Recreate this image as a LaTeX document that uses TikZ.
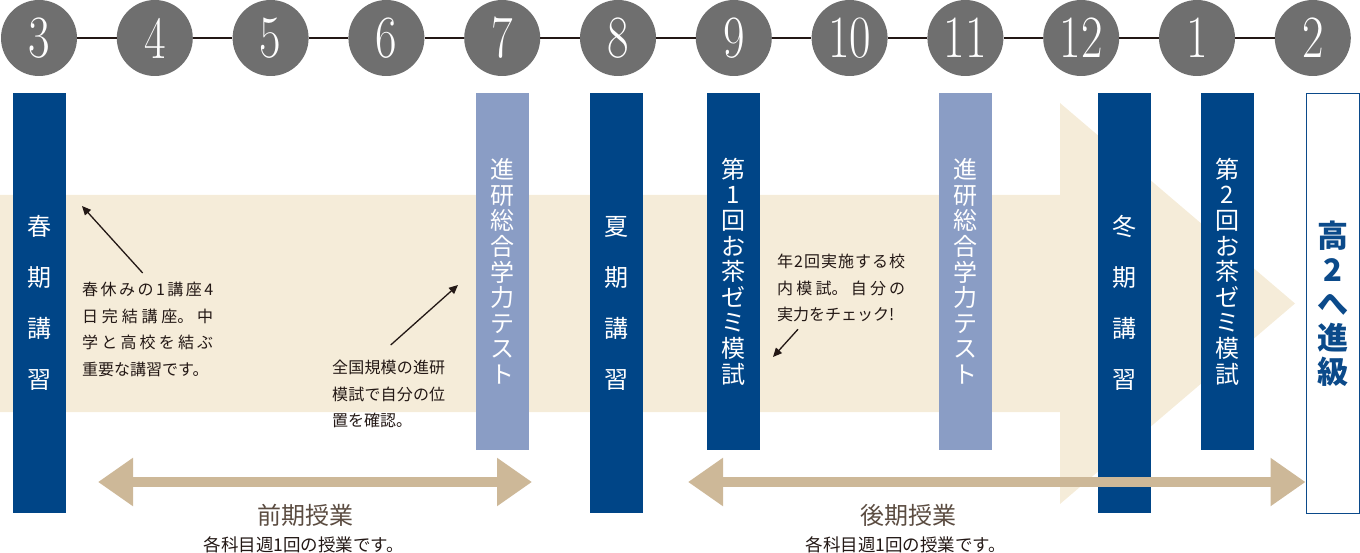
\documentclass[tikz,border=0pt]{standalone}
\usepackage{fontspec}
\usepackage{graphicx}
\usepackage{tikz}
\usetikzlibrary{arrows.meta}
\newfontfamily\jpfont{Noto Sans CJK JP}
\XeTeXlinebreaklocale "ja"
\XeTeXlinebreakskip=0pt plus 2pt
\definecolor{BarBlue}{HTML}{004587}
\definecolor{BarLight}{HTML}{8A9DC5}
\definecolor{FlowBeige}{HTML}{F5ECD9}
\definecolor{TermTan}{HTML}{CDB898}
\definecolor{DotGray}{HTML}{6F6F6F}
\definecolor{InkDark}{HTML}{231815}
\definecolor{LabelBrown}{HTML}{5B4C41}
\definecolor{GoalBlue}{HTML}{0B4A8A}

\begin{document}
\begin{tikzpicture}[x=1pt, y=-1pt,
    monthdot/.style={circle, fill=DotGray, minimum size=76pt, inner sep=0pt, text=white, font=\fontsize{60}{60}\selectfont},
    monthline/.style={draw=InkDark, line width=2.5pt},
    longbar/.style={fill=BarBlue, minimum width=53pt, minimum height=420pt, inner sep=0pt, text=white, align=center, font=\jpfont\fontsize{24}{51}\selectfont},
    shortbar/.style={fill=BarBlue, minimum width=53pt, minimum height=357pt, inner sep=0pt, text=white, align=center, font=\jpfont\fontsize{24}{25.6}\selectfont},
    testbar/.style={shortbar, fill=BarLight},
    goalbox/.style={draw=GoalBlue, line width=1pt, fill=white, minimum width=53pt, minimum height=420pt, inner sep=0pt, text=GoalBlue, align=center, font=\jpfont\bfseries\fontsize{31}{34}\selectfont},
    termarrow/.style={draw=TermTan, line width=10pt, {Triangle[length=35pt,width=46pt]}-{Triangle[length=35pt,width=46pt]}},
    termlabel/.style={text=LabelBrown, font=\jpfont\fontsize{24}{24}\selectfont},
    termnote/.style={text=InkDark, font=\jpfont\fontsize{17.5}{17.5}\selectfont},
    note/.style={anchor=north west, inner sep=0pt, align=justify, text=InkDark, font=\jpfont\fontsize{16}{26.5}\selectfont},
    notearrow/.style={draw=InkDark, line width=1.3pt, -{Triangle[length=9pt,width=8pt]}}
  ]
  \useasboundingbox (0,0) rectangle (1360,553);

  % flow arrow behind everything
  \fill[FlowBeige] (0,195) -- (1060,195) -- (1060,103) -- (1295,303.5) -- (1060,504) -- (1060,412) -- (0,412) -- cycle;

  % months
  \foreach \m [count=\i] in {3,4,5,6,7,8,9,10,11,12,1,2}
    \node[monthdot] (m\i) at ({39+115.8*(\i-1)}, 38) {\scalebox{0.78}[1]{\m}};
  \foreach \i [evaluate=\i as \j using int(\i+1)] in {1,...,11}
    \draw[monthline] (m\i) -- (m\j);

  % bars
  \node[longbar] (spring) at (39.5,303) {春\\期\\講\\習};
  \node[testbar] (test1) at (502.5,271.5) {進\\研\\総\\合\\学\\力\\テ\\ス\\ト};
  \node[longbar] (summer) at (616.5,303) {夏\\期\\講\\習};
  \node[shortbar] (exam1) at (733.5,271.5) {第\\1\\回\\お\\茶\\ゼ\\ミ\\模\\試};
  \node[testbar] (test2) at (965.5,271.5) {進\\研\\総\\合\\学\\力\\テ\\ス\\ト};
  \node[longbar] (winter) at (1124.5,303) {冬\\期\\講\\習};
  \node[shortbar] (exam2) at (1227.5,271.5) {第\\2\\回\\お\\茶\\ゼ\\ミ\\模\\試};
  \node[goalbox] (goal) at (1332.5,303.5) {高\\2\\へ\\進\\級};

  % terms
  \coordinate (t1a) at (98,482);
  \coordinate (t1b) at (532,482);
  \coordinate (t2a) at (688,482);
  \draw[termarrow] (t1a) -- (t1b);
  \draw[termarrow] (t2a) -- (t2a -| goal.west);
  \node[termlabel] (term1) at (305,515) {前期授業};
  \node[termnote] (week1) at (304,545) {各科目週1回の授業です。};
  \node[termlabel] (term2) at (908,515) {後期授業};
  \node[termnote] (week2) at (906,545) {各科目週1回の授業です。};

  % notes
  \node[note, text width=131pt] (note1) at (82,282) {春休みの1講座4\linebreak 日完結講座。中\linebreak 学と高校を結ぶ\linebreak 重要な講習です。};
  \node[note, text width=113pt] (note2) at (332,360) {全国規模の進研\linebreak 模試で自分の位\linebreak 置を確認。};
  \node[note, text width=128pt] (note3) at (777,254) {年2回実施する校\linebreak 内模試。自分の\linebreak 実力をチェック!};
  \coordinate (p1) at (82,206);
  \coordinate (p2) at (458,285);
  \coordinate (p3) at (773,357);
  \draw[notearrow] ([xshift=-5pt,yshift=9pt]note1.north) -- (p1);
  \draw[notearrow] ([xshift=2pt,yshift=15pt]note2.north) -- (p2);
  \draw[notearrow] ([xshift=21pt,yshift=-7pt]note3.south west) -- (p3);

\end{tikzpicture}
\end{document}
